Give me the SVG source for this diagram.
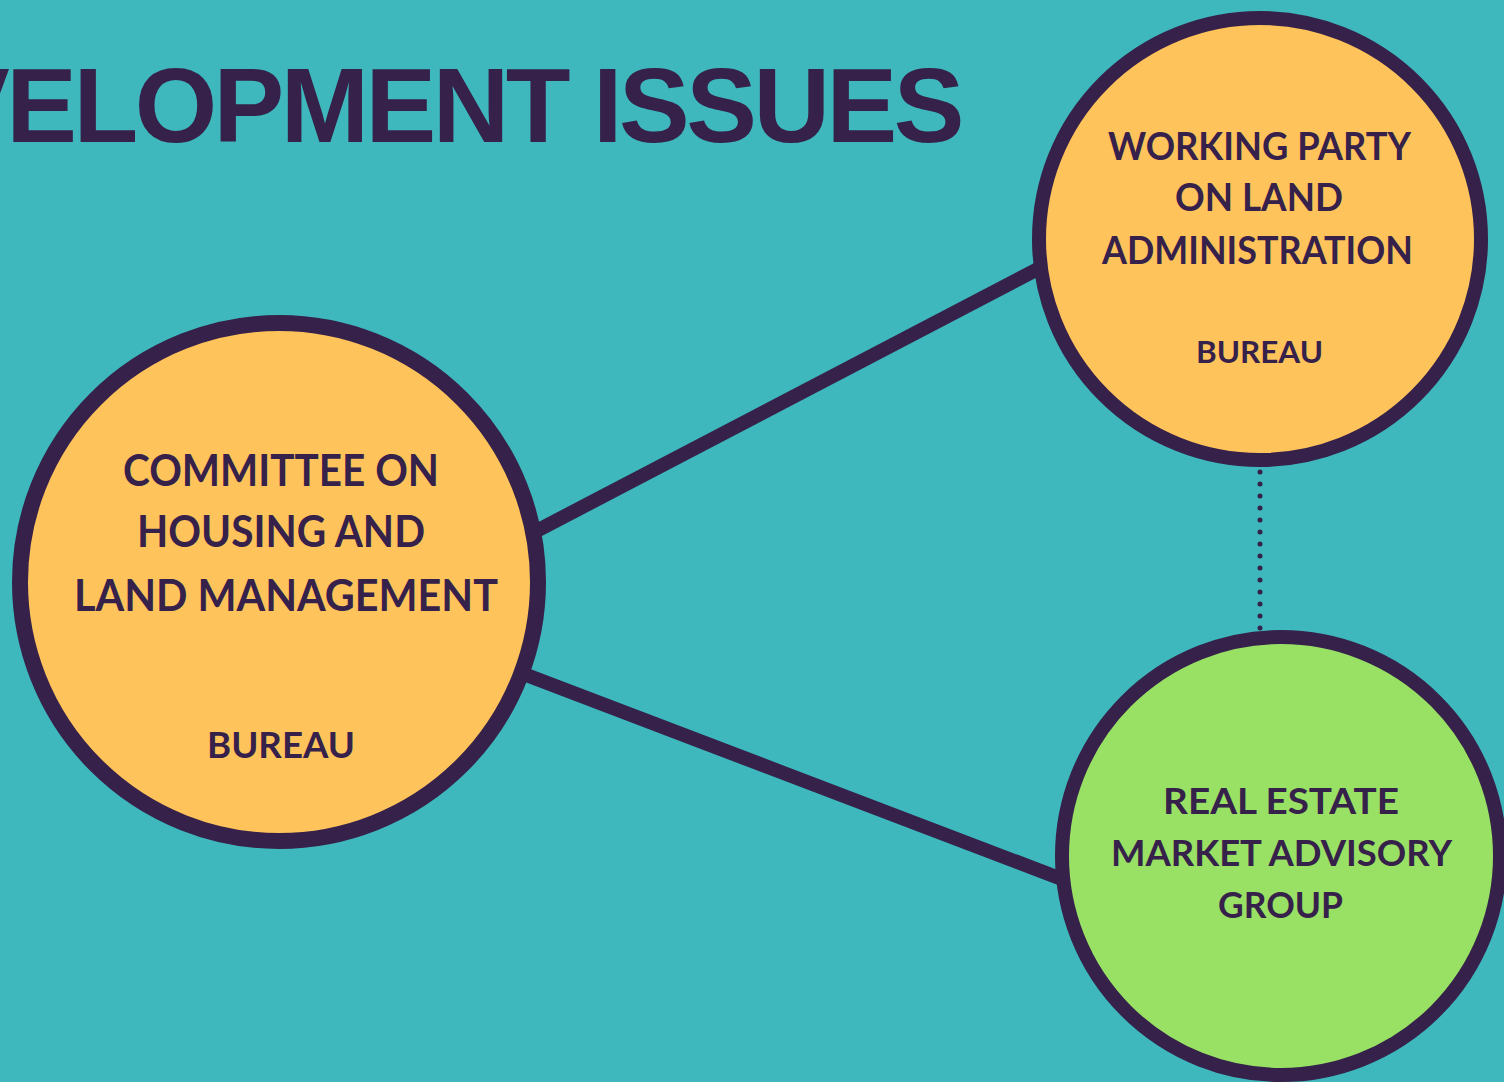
<svg xmlns="http://www.w3.org/2000/svg" width="1504" height="1082" viewBox="0 0 1504 1082">
<style>
.bg{fill:#3eb7bd}
.title{font-family:"Liberation Sans",Arial,sans-serif;font-weight:bold;fill:#36214a}
.conn{stroke:#36214a;stroke-width:14;fill:none}
.dot{stroke:#36214a;stroke-width:5;stroke-linecap:round;stroke-dasharray:0 12;fill:none}
.node circle{stroke:#36214a}
.orange{fill:#fec45b}
.green{fill:#99e165}
.lbl{font-family:Lato,"Open Sans",sans-serif;font-weight:bold;fill:#36214a;text-anchor:middle}
</style>
<rect class="bg" x="0" y="0" width="1504" height="1082"/>
<text class="title" x="-61" y="142" font-size="106" letter-spacing="-3.5">VELOPMENT ISSUES</text>
<g id="connectors">
<line class="conn" x1="500" y1="550" x2="1080" y2="247"/>
<line class="conn" x1="500" y1="665" x2="1080" y2="886"/>
<line class="dot" x1="1260" y1="472" x2="1260" y2="634"/>
</g>
<g id="node-committee" class="node">
<circle class="orange" cx="279" cy="582" r="259" stroke-width="16"/>
<text class="lbl" x="281" y="486" font-size="43" textLength="316" lengthAdjust="spacingAndGlyphs">COMMITTEE ON</text>
<text class="lbl" x="281" y="547" font-size="43" textLength="288" lengthAdjust="spacingAndGlyphs">HOUSING AND</text>
<text class="lbl" x="286" y="611" font-size="43" textLength="424" lengthAdjust="spacingAndGlyphs">LAND MANAGEMENT</text>
<text class="lbl" x="281" y="758" font-size="37" textLength="148" lengthAdjust="spacingAndGlyphs">BUREAU</text>
</g>
<g id="node-working-party" class="node">
<circle class="orange" cx="1260" cy="239" r="221" stroke-width="14"/>
<text class="lbl" x="1259.5" y="160" font-size="38" textLength="303" lengthAdjust="spacingAndGlyphs">WORKING PARTY</text>
<text class="lbl" x="1259" y="211" font-size="38" textLength="168" lengthAdjust="spacingAndGlyphs">ON  LAND</text>
<text class="lbl" x="1257.5" y="264" font-size="38" textLength="311" lengthAdjust="spacingAndGlyphs">ADMINISTRATION</text>
<text class="lbl" x="1259.5" y="363" font-size="31" textLength="127" lengthAdjust="spacingAndGlyphs">BUREAU</text>
</g>
<g id="node-real-estate" class="node">
<circle class="green" cx="1281" cy="856" r="219" stroke-width="14"/>
<text class="lbl" x="1281" y="814" font-size="37" textLength="236" lengthAdjust="spacingAndGlyphs">REAL ESTATE</text>
<text class="lbl" x="1281.5" y="866" font-size="37" textLength="341" lengthAdjust="spacingAndGlyphs">MARKET ADVISORY</text>
<text class="lbl" x="1280.5" y="918" font-size="37" textLength="125" lengthAdjust="spacingAndGlyphs">GROUP</text>
</g>
</svg>
